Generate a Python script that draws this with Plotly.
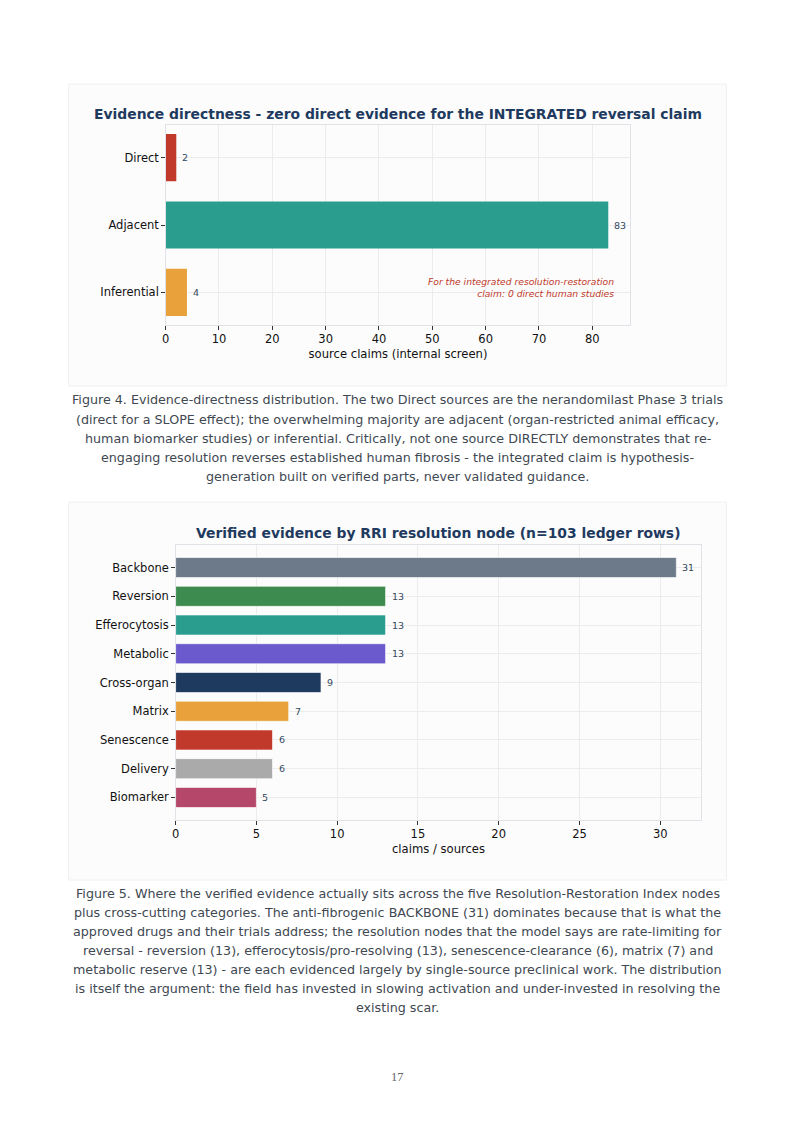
import plotly.graph_objects as go

W, H = 794, 1123
# horizontal rendering correction (measured): rendered = 3.3 + 0.9954 * designed
RX_A, RX_B = 3.3, 0.9954

# ---------------- data ----------------
dir_cats = ["Direct", "Adjacent", "Inferential"]
dir_vals = [2, 83, 4]
dir_colors = ["#c0392b", "#2a9d8f", "#e9a23b"]

node_cats = ["Backbone", "Reversion", "Efferocytosis", "Metabolic", "Cross-organ",
             "Matrix", "Senescence", "Delivery", "Biomarker"]
node_vals = [31, 13, 13, 13, 9, 7, 6, 6, 5]
node_colors = ["#6c7a89", "#3d8b4f", "#2a9d8f", "#6a5acd", "#1f3a5f",
               "#e9a23b", "#c0392b", "#aaaaaa", "#b5476b"]

title1 = "Evidence directness - zero direct evidence for the INTEGRATED reversal claim"
title2 = "Verified evidence by RRI resolution node (n=103 ledger rows)"
xtitle1 = "source claims (internal screen)"
xtitle2 = "claims / sources"
note1 = "For the integrated resolution-restoration<br>claim: 0 direct human studies"

caption1 = [
    "Figure 4. Evidence-directness distribution. The two Direct sources are the nerandomilast Phase 3 trials",
    "(direct for a SLOPE effect); the overwhelming majority are adjacent (organ-restricted animal efficacy,",
    "human biomarker studies) or inferential. Critically, not one source DIRECTLY demonstrates that re-",
    "engaging resolution reverses established human fibrosis - the integrated claim is hypothesis-",
    "generation built on verified parts, never validated guidance.",
]
caption2 = [
    "Figure 5. Where the verified evidence actually sits across the five Resolution-Restoration Index nodes",
    "plus cross-cutting categories. The anti-fibrogenic BACKBONE (31) dominates because that is what the",
    "approved drugs and their trials address; the resolution nodes that the model says are rate-limiting for",
    "reversal - reversion (13), efferocytosis/pro-resolving (13), senescence-clearance (6), matrix (7) and",
    "metabolic reserve (13) - are each evidenced largely by single-source preclinical work. The distribution",
    "is itself the argument: the field has invested in slowing activation and under-invested in resolving the",
    "existing scar.",
]
page_number = "17"

FONT = "DejaVu Sans, Verdana, sans-serif"
NAVY = "#1f3a5f"
LABEL = "#34495e"


def px_x(p):
    return ((p - RX_A) / RX_B) / W


def px_y(p):
    return 1 - p / H


fig = go.Figure()
fig.add_trace(go.Bar(
    x=dir_vals, y=dir_cats, orientation="h", width=0.7,
    marker=dict(color=dir_colors, line=dict(width=0)),
    xaxis="x", yaxis="y", hoverinfo="x+y", showlegend=False,
))
fig.add_trace(go.Bar(
    x=node_vals, y=node_cats, orientation="h", width=0.7,
    marker=dict(color=node_colors, line=dict(width=0.8, color="rgba(255,255,255,0.8)")),
    xaxis="x2", yaxis="y2", hoverinfo="x+y", showlegend=False,
))

axis_common = dict(
    showline=True, linecolor="#dfe3e8", linewidth=1, mirror=True,
    showgrid=True, gridcolor="#ececec", gridwidth=1,
    ticks="outside", ticklen=3.5, tickwidth=1, tickcolor="#333333",
    tickfont=dict(family=FONT, size=11.5, color="#111111"),
    zeroline=False, fixedrange=True,
)

m1 = max(dir_vals) * 1.05
m2 = max(node_vals) * 1.05

fig.update_layout(
    width=W, height=H, autosize=False,
    margin=dict(l=0, r=0, t=0, b=0),
    paper_bgcolor="white", plot_bgcolor="white",
    font=dict(family=FONT, color="#111111"),
    xaxis=dict(axis_common, domain=[px_x(165), px_x(630)], anchor="y",
               range=[0, m1], tickvals=[0, 10, 20, 30, 40, 50, 60, 70, 80],
               title=dict(text=xtitle1, font=dict(size=11.6, family=FONT, color="#111111"), standoff=4)),
    yaxis=dict(axis_common, domain=[px_y(325), px_y(125)], anchor="x",
               type="category", categoryorder="array", categoryarray=dir_cats,
               range=[len(dir_cats) - 1 + 0.485, -0.485]),
    xaxis2=dict(axis_common, domain=[px_x(175), px_x(701)], anchor="y2",
                range=[0, m2], tickvals=[0, 5, 10, 15, 20, 25, 30],
                title=dict(text=xtitle2, font=dict(size=11.6, family=FONT, color="#111111"), standoff=4)),
    yaxis2=dict(axis_common, domain=[px_y(820), px_y(545)], anchor="x2",
                type="category", categoryorder="array", categoryarray=node_cats,
                range=[len(node_cats) - 1 + 0.785, -0.785]),
    bargap=0.3,
)

# panel backgrounds
for (x0, x1, y0, y1) in [(68, 726, 84, 386), (68, 726, 502, 880)]:
    fig.add_shape(type="rect", xref="paper", yref="paper",
                  x0=px_x(x0), x1=px_x(x1), y0=px_y(y1), y1=px_y(y0),
                  fillcolor="#fcfcfc", line=dict(color="#f0f0f0", width=1), layer="below")

ann = []
# titles
ann.append(dict(text="<b>" + title1 + "</b>", xref="paper", yref="paper",
                x=px_x((165 + 630) / 2), y=px_y(114), xanchor="center", yanchor="middle",
                showarrow=False, font=dict(family=FONT, size=13.9, color=NAVY)))
ann.append(dict(text="<b>" + title2 + "</b>", xref="paper", yref="paper",
                x=px_x((175 + 701) / 2), y=px_y(533), xanchor="center", yanchor="middle",
                showarrow=False, font=dict(family=FONT, size=13.9, color=NAVY)))

# value labels
for c, v in zip(dir_cats, dir_vals):
    ann.append(dict(text=str(v), x=v, y=c, xref="x", yref="y", xanchor="left", yanchor="middle",
                    xshift=4, showarrow=False, font=dict(family=FONT, size=9.5, color=LABEL)))
for c, v in zip(node_cats, node_vals):
    ann.append(dict(text=str(v), x=v, y=c, xref="x2", yref="y2", xanchor="left", yanchor="middle",
                    xshift=4, showarrow=False, font=dict(family=FONT, size=9.5, color=LABEL)))

# note in chart 1
ann.append(dict(text="<i>" + note1 + "</i>", xref="paper", yref="paper",
                x=px_x(616), y=px_y(287), xanchor="right", yanchor="middle", align="right",
                showarrow=False, font=dict(family=FONT, size=9.2, color="#c0392b")))

# captions
for i, line in enumerate(caption1):
    ann.append(dict(text=line, xref="paper", yref="paper", x=px_x(397), y=px_y(400 + 19 * i),
                    xanchor="center", yanchor="middle", showarrow=False,
                    font=dict(family=FONT, size=12.7, color="#404852")))
for i, line in enumerate(caption2):
    ann.append(dict(text=line, xref="paper", yref="paper", x=px_x(397), y=px_y(893 + 19 * i),
                    xanchor="center", yanchor="middle", showarrow=False,
                    font=dict(family=FONT, size=12.7, color="#404852")))

ann.append(dict(text=page_number, xref="paper", yref="paper", x=px_x(397), y=px_y(1077),
                xanchor="center", yanchor="middle", showarrow=False,
                font=dict(family="Liberation Serif, Times New Roman, serif", size=12.5, color="#666666")))

fig.update_layout(annotations=ann)
fig.write_html("out.html", config={"displayModeBar": False},
               post_script="document.body.style.margin='0';document.body.style.overflow='hidden';")
